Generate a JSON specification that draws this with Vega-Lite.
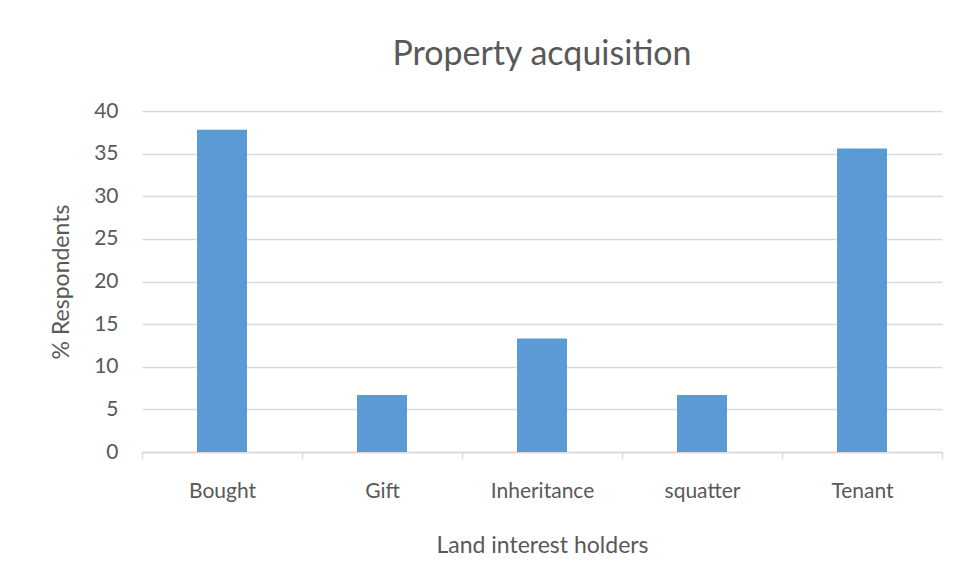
{
  "$schema": "https://vega.github.io/schema/vega-lite/v6.json",
  "width": 800,
  "height": 341,
  "autosize": {"type": "none"},
  "padding": {"left": 142, "top": 111, "right": 18, "bottom": 131},
  "background": "white",
  "title": {
    "text": "Property acquisition",
    "fontSize": 34,
    "font": "Lato",
    "fontWeight": "normal",
    "color": "#595959",
    "anchor": "middle",
    "offset": 28,
    "frame": "group"
  },
  "config": {
    "view": {"stroke": null},
    "font": "Lato",
    "axis": {
      "labelFont": "Lato",
      "titleFont": "Lato",
      "labelColor": "#595959",
      "titleColor": "#595959",
      "labelFontSize": 21,
      "titleFontSize": 23,
      "titleFontWeight": "normal"
    }
  },
  "data": {
    "values": [
      {"holder": "Bought", "pct": 37.8},
      {"holder": "Gift", "pct": 6.7},
      {"holder": "Inheritance", "pct": 13.3},
      {"holder": "squatter", "pct": 6.7},
      {"holder": "Tenant", "pct": 35.6}
    ]
  },
  "mark": {"type": "bar", "color": "#5b9bd5", "width": {"band": 0.3125}},
  "encoding": {
    "x": {
      "field": "holder",
      "type": "nominal",
      "sort": null,
      "scale": {"paddingInner": 0, "paddingOuter": 0},
      "axis": {
        "title": "Land interest holders",
        "labelAngle": 0,
        "labelPadding": 21,
        "titlePadding": 33,
        "domainColor": "#d9d9d9",
        "domainWidth": 1.5,
        "tickColor": "#d9d9d9",
        "tickWidth": 1.5,
        "tickSize": 7,
        "tickBand": "extent",
        "grid": false
      }
    },
    "y": {
      "field": "pct",
      "type": "quantitative",
      "scale": {"domain": [0, 40]},
      "axis": {
        "title": "% Respondents",
        "values": [0, 5, 10, 15, 20, 25, 30, 35, 40],
        "domain": false,
        "ticks": false,
        "labelPadding": 24,
        "titlePadding": 20,
        "gridColor": "#d9d9d9",
        "gridWidth": 1.5
      }
    }
  }
}
